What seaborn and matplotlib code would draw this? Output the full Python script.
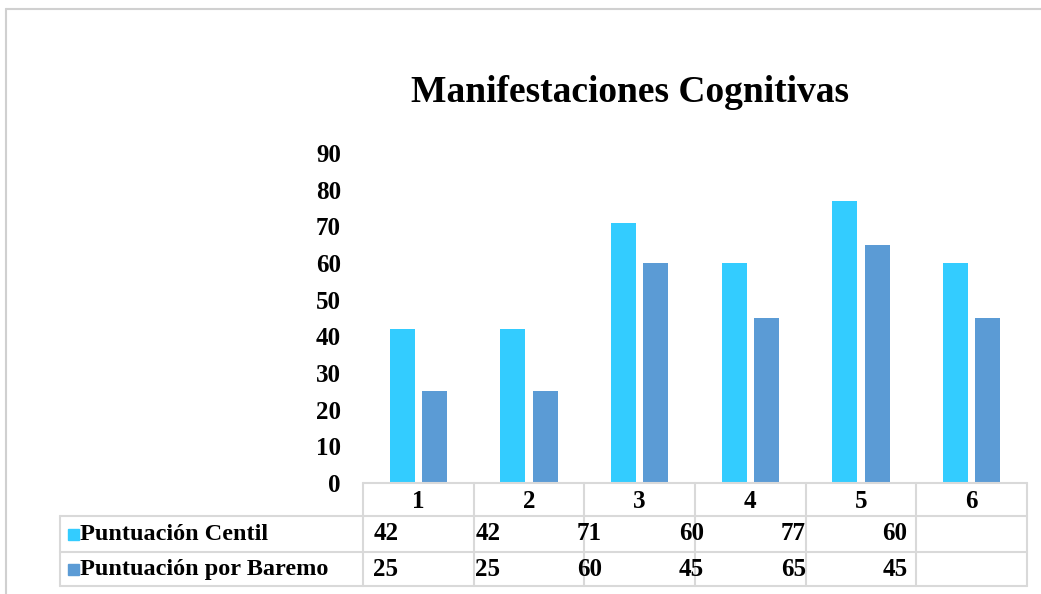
import numpy as np
import pandas as pd
import matplotlib.pyplot as plt
import seaborn as sns
from matplotlib.lines import Line2D
from matplotlib.patches import Rectangle

# ==============================================================================
# Datos de la gráfica
# ==============================================================================
categorias = ["1", "2", "3", "4", "5", "6"]
puntuacion_centil = [42, 42, 71, 60, 77, 60]
puntuacion_baremo = [25, 25, 60, 45, 65, 45]
series = ["Puntuación Centil", "Puntuación por Baremo"]
colores = {"Puntuación Centil": "#33CCFF", "Puntuación por Baremo": "#5B9BD5"}
titulo = "Manifestaciones Cognitivas"
ticks_y = [0, 10, 20, 30, 40, 50, 60, 70, 80, 90]

df = pd.DataFrame({
    "Categoria": categorias * 2,
    "Valor": puntuacion_centil + puntuacion_baremo,
    "Serie": [series[0]] * len(categorias) + [series[1]] * len(categorias),
})

sns.set_theme(style="white")
plt.rcParams["font.family"] = ["Liberation Serif", "DejaVu Serif"]
plt.rcParams["font.weight"] = "bold"

W, H = 1041, 594
fig = plt.figure(figsize=(W / 100, H / 100), dpi=100)

def fx(px):
    return px / W

def fy(py):
    return 1 - py / H

# area de trazado (en pixeles de la imagen)
izq, der, arriba, abajo = 363, 1027, 153, 483
ax = fig.add_axes([fx(izq), fy(abajo), fx(der - izq), (abajo - arriba) / H])

sns.barplot(data=df, x="Categoria", y="Valor", hue="Serie", palette=colores,
            width=0.58, gap=0.22, ax=ax, legend=False, saturation=1,
            linewidth=0)

ax.set_xlim(-0.5, len(categorias) - 0.5)
ax.set_ylim(0, 90)
ax.set_yticks(ticks_y)
ax.set_yticklabels([str(t) for t in ticks_y], fontsize=18, fontweight="bold")
ax.tick_params(axis="y", length=0, pad=16, colors="black")
ax.tick_params(axis="x", length=0, pad=5, labelsize=18, colors="black")
for lbl in ax.get_xticklabels():
    lbl.set_fontweight("bold")
ax.set_xlabel("")
ax.set_ylabel("")
for s in ax.spines.values():
    s.set_visible(False)
ax.grid(False)

fig.text(fx(630), fy(93), titulo, ha="center", va="center",
         fontsize=27, fontweight="bold", color="black")

# ==============================================================================
# Tabla de datos (estilo Excel)
# ==============================================================================
gris = "#D9D9D9"
fila_top, fila1, fila2, fila_fin = 483, 516, 552, 586
tabla_izq = 60
ancho_col = (der - izq) / len(categorias)

def linea(x0, y0, x1, y1, color=gris, lw=1.5):
    fig.add_artist(Line2D([fx(x0), fx(x1)], [fy(y0), fy(y1)], color=color, lw=lw))

linea(izq, fila_top, der, fila_top)
linea(tabla_izq, fila1, der, fila1)
linea(tabla_izq, fila2, der, fila2)
linea(tabla_izq, fila_fin, der, fila_fin)
linea(tabla_izq, fila1, tabla_izq, fila_fin)
for i in range(len(categorias) + 1):
    xc = izq + i * ancho_col
    linea(xc, fila_top, xc, fila_fin)

# borde exterior del grafico
linea(6, 9, W, 9, color="#D0D0D0", lw=1.5)
linea(6, 9, 6, H, color="#D0D0D0", lw=1.5)

# etiquetas de fila con su clave de color
for serie, yf0, yf1 in [(series[0], fila1, fila2), (series[1], fila2, fila_fin)]:
    yc = (yf0 + yf1) / 2
    fig.add_artist(Rectangle((fx(68), fy(yc + 6)), fx(11), 11 / H,
                             color=colores[serie], transform=fig.transFigure))
    fig.text(fx(80), fy(yc), serie, ha="left", va="center",
             fontsize=17.5, fontweight="bold", color="black")

# valores de la tabla (desplazados como en el original)
x_ini, paso = 386, 101.8
for valores, yf0, yf1 in [(puntuacion_centil, fila1, fila2), (puntuacion_baremo, fila2, fila_fin)]:
    yc = (yf0 + yf1) / 2
    for i, v in enumerate(valores):
        fig.text(fx(x_ini + i * paso), fy(yc), str(v), ha="center", va="center",
                 fontsize=18, fontweight="bold", color="black")

fig.savefig("out.png", dpi=100, facecolor="white")
